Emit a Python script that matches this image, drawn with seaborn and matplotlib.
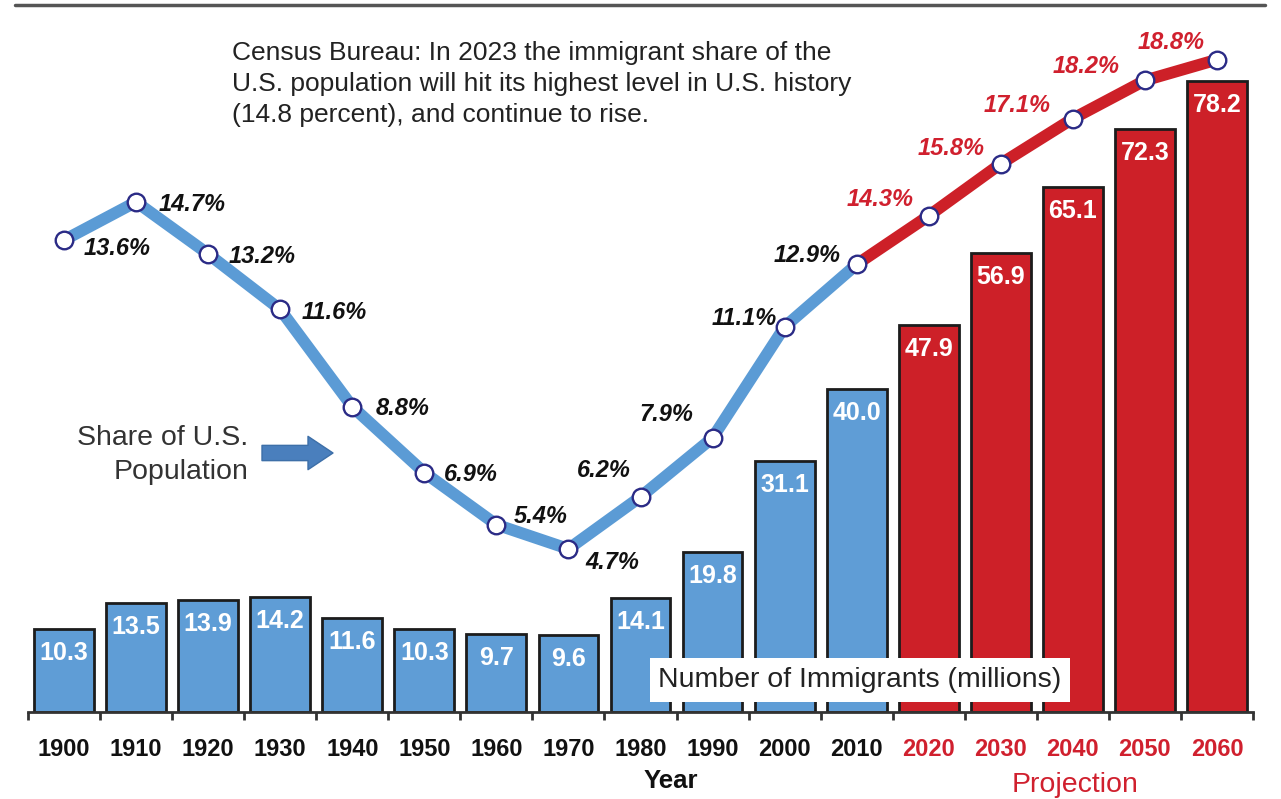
import numpy as np
import pandas as pd
import matplotlib
matplotlib.use("Agg")
import matplotlib.pyplot as plt
from matplotlib.lines import Line2D
from matplotlib.patches import FancyArrowPatch
import seaborn as sns

# ---- data ----
years = ['1900', '1910', '1920', '1930', '1940', '1950', '1960', '1970', '1980',
         '1990', '2000', '2010', '2020', '2030', '2040', '2050', '2060']
immigrants = [10.3, 13.5, 13.9, 14.2, 11.6, 10.3, 9.7, 9.6, 14.1, 19.8, 31.1,
              40.0, 47.9, 56.9, 65.1, 72.3, 78.2]
share = [13.6, 14.7, 13.2, 11.6, 8.8, 6.9, 5.4, 4.7, 6.2, 7.9, 11.1, 12.9,
         14.3, 15.8, 17.1, 18.2, 18.8]
period = ['Historical'] * 12 + ['Projection'] * 5

# ---- layout / style (not data) ----
label_offsets = [(53, -8), (56, -3), (54, -3), (54, -3), (50, -2), (47, -2),
                 (44, 8), (44, -14), (-37, 26), (-46, 23), (-40, 8), (-50, 9),
                 (-49, 16), (-50, 15), (-56, 13), (-59, 14), (-46, 17)]
BLUE_BAR = '#5f9dd6'
BLUE_LINE = '#5b9bd5'
RED = '#cd2028'
RED_TXT = '#d0202e'

W, H = 1281, 799
sns.set_theme(style='white')
plt.rcParams['font.family'] = ['Liberation Sans', 'DejaVu Sans']

fig = plt.figure(figsize=(W / 100, H / 100), dpi=100)
ax = fig.add_axes([28 / W, 1 - 712 / H, (1253 - 28) / W, (712 - 20) / H])

df = pd.DataFrame({'year': years, 'immigrants': immigrants, 'period': period})
sns.barplot(data=df, x='year', y='immigrants', hue='period',
            palette={'Historical': BLUE_BAR, 'Projection': RED},
            dodge=False, legend=False, width=0.83, saturation=1,
            edgecolor='#1c1c1c', linewidth=2, ax=ax, zorder=2)
ax.set_xlim(-0.5, len(years) - 0.5)
ax.set_ylim(0, 692 / 8.07)

for i, v in enumerate(immigrants):
    ax.annotate(f'{v:.1f}', (i, v), xytext=(0, -24), textcoords='offset pixels',
                ha='center', va='center', color='white', fontsize=18,
                fontweight='bold', zorder=5)

for s in ['left', 'right', 'top']:
    ax.spines[s].set_visible(False)
ax.spines['bottom'].set_color('#333333')
ax.spines['bottom'].set_linewidth(2)
ax.set_yticks([])
ax.set_ylabel('')
ax.set_xlabel('')
ax.set_xticks(range(len(years)))
ax.set_xticks(np.arange(-0.5, len(years)), minor=True)
ax.tick_params(axis='x', which='major', length=0, pad=19)
ax.tick_params(axis='x', which='minor', length=6, width=2, color='#333333',
               bottom=True)
labs = ax.set_xticklabels(years, fontsize=17, fontweight='bold')
for i, t in enumerate(labs):
    t.set_color('#111111' if period[i] == 'Historical' else RED_TXT)

# ---- share line on twin axis ----
ax2 = ax.twinx()
ax2.set_ylim(0, 692 / 34.7)
xs = np.arange(len(years))
hist = [i for i, p in enumerate(period) if p == 'Historical']
proj = [hist[-1]] + [i for i, p in enumerate(period) if p == 'Projection']
sns.lineplot(x=xs[hist], y=[share[i] for i in hist], color=BLUE_LINE,
             linewidth=8.5, ax=ax2, zorder=3, solid_capstyle='round')
sns.lineplot(x=xs[proj], y=[share[i] for i in proj], color=RED,
             linewidth=8.5, ax=ax2, zorder=3, solid_capstyle='round')
sns.scatterplot(x=xs, y=share, s=160, color='white', edgecolor='#2b2b86',
                linewidth=1.7, ax=ax2, zorder=4)
for i, v in enumerate(share):
    dx, dy = label_offsets[i]
    ax2.annotate(f'{v:.1f}%', (i, v), xytext=(dx, dy), textcoords='offset pixels',
                 ha='center', va='center', fontsize=17, fontweight='bold',
                 fontstyle='italic',
                 color='#111111' if period[i] == 'Historical' else RED_TXT)
ax2.set_yticks([])
ax2.set_ylabel('')
for s in ['left', 'right', 'top', 'bottom']:
    ax2.spines[s].set_visible(False)

# ---- annotations ----
fig.text(232 / W, 1 - 84 / H,
         'Census Bureau: In 2023 the immigrant share of the\n'
         'U.S. population will hit its highest level in U.S. history\n'
         '(14.8 percent), and continue to rise.',
         ha='left', va='center', fontsize=19, color='#222222', linespacing=1.37)
fig.text(248 / W, 1 - 455 / H, 'Share of U.S.\nPopulation', ha='right',
         va='center', fontsize=20.5, color='#333333', linespacing=1.4,
         multialignment='right')
arrow = FancyArrowPatch((262 / W, 1 - 453 / H), (333 / W, 1 - 453 / H),
                        transform=fig.transFigure,
                        arrowstyle='simple,head_length=0.9,head_width=1.2,tail_width=0.55',
                        mutation_scale=20, fc='#4a7fbd', ec='#3d6fa8', lw=1,
                        shrinkA=0, shrinkB=0)
fig.patches.append(arrow)
fig.text(860 / W, 1 - 680 / H, 'Number of Immigrants (millions)', ha='center',
         va='center', fontsize=20.5, color='#222222', zorder=10,
         bbox=dict(boxstyle='square,pad=0.3', fc='white', ec='none'))
fig.text(671 / W, 1 - 781 / H, 'Year', ha='center', va='center', fontsize=18.5,
         fontweight='bold', color='#111111')
fig.text(1075 / W, 1 - 785 / H, 'Projection', ha='center', va='center',
         fontsize=20.5, color=RED_TXT)
fig.add_artist(Line2D([15 / W, 1265 / W], [1 - 5 / H, 1 - 5 / H],
                      color='#555555', lw=2.5))

fig.savefig('out.png', dpi=100)
